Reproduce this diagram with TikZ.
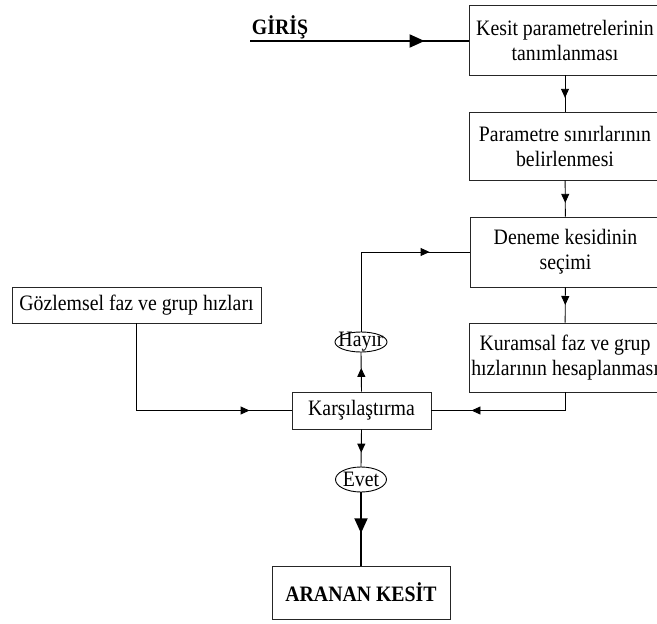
\documentclass[tikz,border=0pt]{standalone}
\usepackage{fontspec}
\setmainfont[FakeStretch=0.9]{Liberation Serif}
\usetikzlibrary{arrows.meta,decorations.markings}
\begin{document}
\begin{tikzpicture}[x=1pt,y=-1pt,
  font=\fontsize{22}{25}\selectfont,
  box/.style={draw=black!85,line width=0.9pt,align=center,inner sep=0pt},
  conn/.style={line width=0.9pt},
  midarrow/.style={postaction={decorate},decoration={markings,
      mark=at position #1 with {\arrow{Triangle[length=9pt,width=8pt]}}}},
  bigarrow/.style={postaction={decorate},decoration={markings,
      mark=at position #1 with {\arrow{Triangle[length=15pt,width=13pt]}}}},
  lbl/.style={inner sep=0pt,align=center}
]
\useasboundingbox (0,0) rectangle (657,624);
\clip (0,0) rectangle (657,624);

\node[box,minimum width=192pt,minimum height=70pt] (b1) at (565,40) {Kesit parametrelerinin\\tanımlanması};
\node[box,minimum width=192pt,minimum height=68pt] (b2) at (565,146) {Parametre sınırlarının\\belirlenmesi};
\node[box,minimum width=191pt,minimum height=70pt] (b3) at (565.5,252) {Deneme kesidinin\\seçimi};
\node[box,minimum width=192pt,minimum height=69pt] (b4) at (565,357.5) {Kuramsal faz ve grup\\hızlarının hesaplanması};
\node[box,minimum width=249pt,minimum height=36pt] (gz) at (136.5,305) {Gözlemsel faz ve grup hızları};
\node[box,minimum width=139pt,minimum height=37pt] (kr) at (361.5,410.5) {Karşılaştırma};
\node[box,minimum width=178pt,minimum height=53pt,font=\fontsize{22}{25}\selectfont\bfseries] (ar) at (361,592.5) {ARANAN KESİT};

\node[lbl,minimum height=20pt] (hayir) at (361,342) {Hayır};
\draw[line width=0.9pt] (hayir.center) ellipse [x radius=26pt, y radius=10pt];
\node[lbl,minimum height=25pt] (evet) at (361,479.5) {Evet};
\draw[line width=0.9pt] (evet.center) ellipse [x radius=25.5pt, y radius=12.5pt];

\node[lbl,font=\fontsize{22}{25}\selectfont\bfseries] (giris) at (280,27) {GİRİŞ};
\coordinate (gin) at (250,41);

\draw[line width=2pt,bigarrow=-44pt] (gin) -- (gin -| b1.west);
\draw[conn,midarrow=0.62] (b1) -- (b2);
\draw[conn,midarrow=0.62] (b2) -- (b3);
\draw[conn,midarrow=0.5] (b3) -- (b4);
\draw[conn,midarrow=-40pt] (b4.south) |- (kr.east);
\draw[conn,midarrow=-42pt] (gz.south) |- (kr.west);
\draw[conn,midarrow=0.6] (kr.north) -- (hayir.south);
\draw[conn,midarrow=-40pt] (hayir.north) |- (b3.west);
\draw[conn,midarrow=0.62] (kr.south) -- (evet.north);
\draw[line width=2pt,bigarrow=0.56] (evet.south) -- (ar.north);
\end{tikzpicture}
\end{document}
